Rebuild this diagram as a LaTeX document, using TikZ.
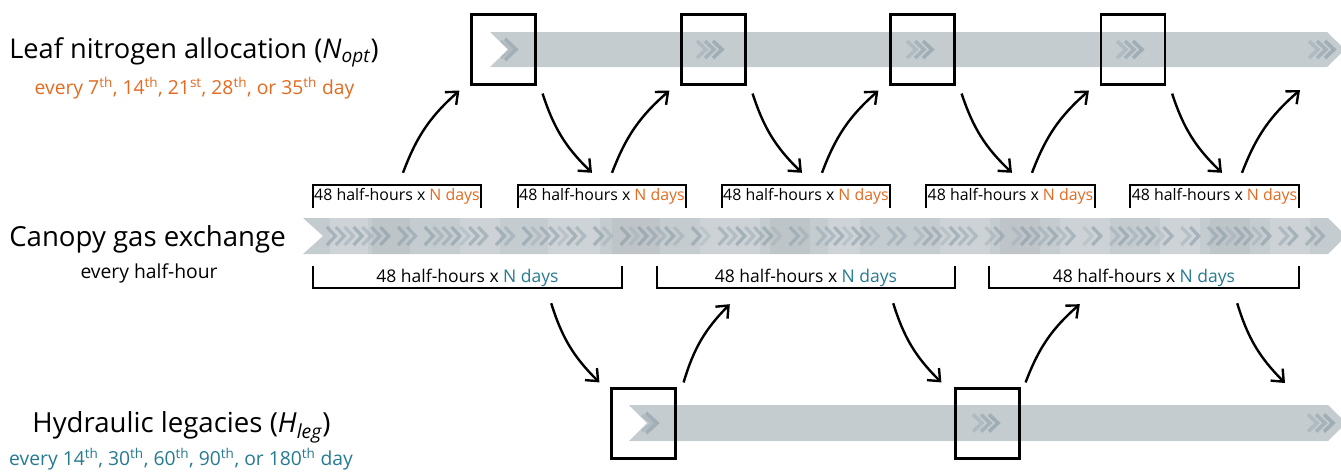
\documentclass[tikz,border=0pt]{standalone}
\usepackage{fontspec}
\setmainfont{Open Sans}
\usetikzlibrary{arrows.meta}
\definecolor{orng}{RGB}{228,106,32}
\definecolor{tealc}{RGB}{38,122,145}
\definecolor{bandc}{RGB}{197,204,208}
\definecolor{chevc}{RGB}{128,148,160}
\begin{document}
\begin{tikzpicture}[x=1pt,y=-1pt,
  stepbox/.style={draw=black, line width=2.2pt, minimum width=64pt, minimum height=70pt, inner sep=0pt},
  upbrk/.style={minimum width=168pt, minimum height=22pt, inner sep=0pt, font=\fontsize{15.9}{18}\selectfont},
  lowbrk/.style={minimum height=21pt, inner sep=0pt, font=\fontsize{17.5}{20}\selectfont},
  brkline/.style={line width=1.9pt, line cap=rect},
  flow/.style={line width=2.4pt, -{Straight Barb[length=10pt,width=17pt,line width=2.4pt]}},
  chev/.style={draw=chevc, line width=3.6pt, line join=miter, line cap=butt},
  biglabel/.style={font=\fontsize{27.6}{30}\selectfont, inner sep=0pt},
  smalllabel/.style={font=\fontsize{19.3}{22}\selectfont, inner sep=0pt}
]
\useasboundingbox (0,0) rectangle (1341,472);
% ---------------- bands ----------------
\fill[bandc] (490,32) -- (1327,32) -- (1345,49.5) -- (1327,67) -- (490,67) -- (508,49.5) -- cycle;
\fill[bandc] (303,218) -- (1328,218) -- (1346,236) -- (1328,254) -- (303,254) -- (323,236) -- cycle;
\fill[bandc] (629,405) -- (1328,405) -- (1346,423) -- (1328,441) -- (629,441) -- (647,423) -- cycle;
% lighter / darker patches in the middle band
\foreach \a/\b/\o in {330/368/0.15, 460/500/0.12, 548/600/0.15, 700/760/0.12, 828/860/0.15, 940/990/0.12, 1060/1110/0.12, 1160/1200/0.15, 1270/1310/0.12}
  \fill[white, opacity=\o] (\a,218) rectangle (\b,254);
\foreach \a/\b/\o in {372/410/0.03, 612/660/0.035, 770/810/0.03, 1000/1040/0.035, 1210/1250/0.03}
  \fill[black, opacity=\o] (\a,218) rectangle (\b,254);
% chevrons in the middle band
\foreach \i in {0,...,112}{
  \pgfmathsetmacro{\xx}{318+\i*8.9}
  \pgfmathsetmacro{\oo}{0.2+0.32*abs(sin(\i*67))}
  \pgfmathtruncatemacro{\gg}{mod(\i*7,11)}
  \ifnum\gg>1
    \draw[chev, opacity=\oo, line width=3.2pt] (\xx,227) -- (\xx+8.5,236) -- (\xx,245);
  \fi
}
% chevrons in top band
\draw[chev, opacity=0.5, line width=3.6pt] (505,39) -- (516,49.5) -- (505,60);
\draw[chev, opacity=0.3, line width=3pt] (501,41) -- (511,49.5) -- (501,58);
\foreach \c in {697,907,1117,1309}{
  \foreach \k/\o in {0/0.3,8/0.45,16/0.55}
    \draw[chev, opacity=\o] (\c+\k,41) -- (\c+\k+9,49.5) -- (\c+\k,58);
}
% chevrons in bottom band
\draw[chev, opacity=0.5, line width=3.6pt] (646,413) -- (657,423) -- (646,433);
\draw[chev, opacity=0.3, line width=3pt] (642,415) -- (652,423) -- (642,431);
\foreach \c in {973,1308}{
  \foreach \k/\o in {0/0.3,8/0.45,16/0.55}
    \draw[chev, opacity=\o] (\c+\k,414.5) -- (\c+\k+9,423) -- (\c+\k,431.5);
}
% ---------------- boxes ----------------
\node[stepbox] (t1) at (503.5,49.5) {};
\node[stepbox] (t2) at (713.5,49.5) {};
\node[stepbox] (t3) at (922.5,49.5) {};
\node[stepbox] (t4) at (1133,49.5) {};
\node[stepbox] (b1) at (643.5,423.5) {};
\node[stepbox] (b2) at (987.5,423.5) {};
% ---------------- upper brackets ----------------
\newcommand{\uptext}{48 half-hours x \textcolor{orng}{N days}}
\newcommand{\lowtext}{48 half-hours x \textcolor{tealc}{N days}}
\foreach \n/\cx in {u1/397, u2/602, u3/806, u4/1010.5, u5/1214.5}{
  \node[upbrk] (\n) at (\cx,196) {\uptext};
  \draw[brkline] (\n.south west) -- (\n.north west) -- (\n.north east) -- (\n.south east);
}
% ---------------- lower brackets ----------------
\foreach \n/\cx/\w in {l1/467.5/309, l2/806/298, l3/1144/310}{
  \node[lowbrk, minimum width=\w pt] (\n) at (\cx,277.5) {\lowtext};
  \draw[brkline] (\n.north west) -- (\n.south west) -- (\n.south east) -- (\n.north east);
}
% ---------------- arrows, top row ----------------
\coordinate (endU5) at (1300,90);
\coordinate (endD3) at (1285,383);
\draw[flow] ([shift={(6,-12)}]u1.north) to[bend left=14] ([shift={(-11,5)}]t1.south west);
\draw[flow] ([shift={(6,8)}]t1.south east) to[bend right=14] ([shift={(-10,-12)}]u2.north);
\draw[flow] ([shift={(10,-12)}]u2.north) to[bend left=14] ([shift={(-11,5)}]t2.south west);
\draw[flow] ([shift={(6,8)}]t2.south east) to[bend right=14] ([shift={(-4,-12)}]u3.north);
\draw[flow] ([shift={(16,-12)}]u3.north) to[bend left=14] ([shift={(-11,5)}]t3.south west);
\draw[flow] ([shift={(6,8)}]t3.south east) to[bend right=14] ([shift={(1.5,-12)}]u4.north);
\draw[flow] ([shift={(21.5,-12)}]u4.north) to[bend left=14] ([shift={(-11,5)}]t4.south west);
\draw[flow] ([shift={(6,8)}]t4.south east) to[bend right=14] ([shift={(7.5,-12)}]u5.north);
\draw[flow] ([shift={(27.5,-12)}]u5.north) to[bend left=14] (endU5);
% ---------------- arrows, bottom row ----------------
\draw[flow] ([shift={(-71,15)}]l1.south east) to[bend right=14] ([shift={(-11,-5)}]b1.north west);
\draw[flow] ([shift={(7,-5)}]b1.north east) to[bend left=14] ([shift={(73,16)}]l2.south west);
\draw[flow] ([shift={(-62,15)}]l2.south east) to[bend right=14] ([shift={(-13,-5)}]b2.north west);
\draw[flow] ([shift={(5,-5)}]b2.north east) to[bend left=14] ([shift={(91,16)}]l3.south west);
\draw[flow] ([shift={(-62,15)}]l3.south east) to[bend right=14] (endD3);
% ---------------- left labels ----------------
\node[biglabel, font=\fontsize{27.2}{30}\selectfont] (lnA) at (194,52) {Leaf nitrogen allocation (\textit{N}\textsubscript{\textit{opt}})};
\node[smalllabel, text=orng] (lnB) at (194.5,88) {every 7\textsuperscript{th}, 14\textsuperscript{th}, 21\textsuperscript{st}, 28\textsuperscript{th}, or 35\textsuperscript{th} day};
\node[biglabel] (cgA) at (147.5,239) {Canopy gas exchange};
\node[smalllabel] (cgB) at (149,273) {every half-hour};
\node[biglabel] (hlA) at (181.5,427) {Hydraulic legacies (\textit{H}\textsubscript{\textit{leg}})};
\node[smalllabel, text=tealc] (hlB) at (181,459) {every 14\textsuperscript{th}, 30\textsuperscript{th}, 60\textsuperscript{th}, 90\textsuperscript{th}, or 180\textsuperscript{th} day};
\end{tikzpicture}
\end{document}
